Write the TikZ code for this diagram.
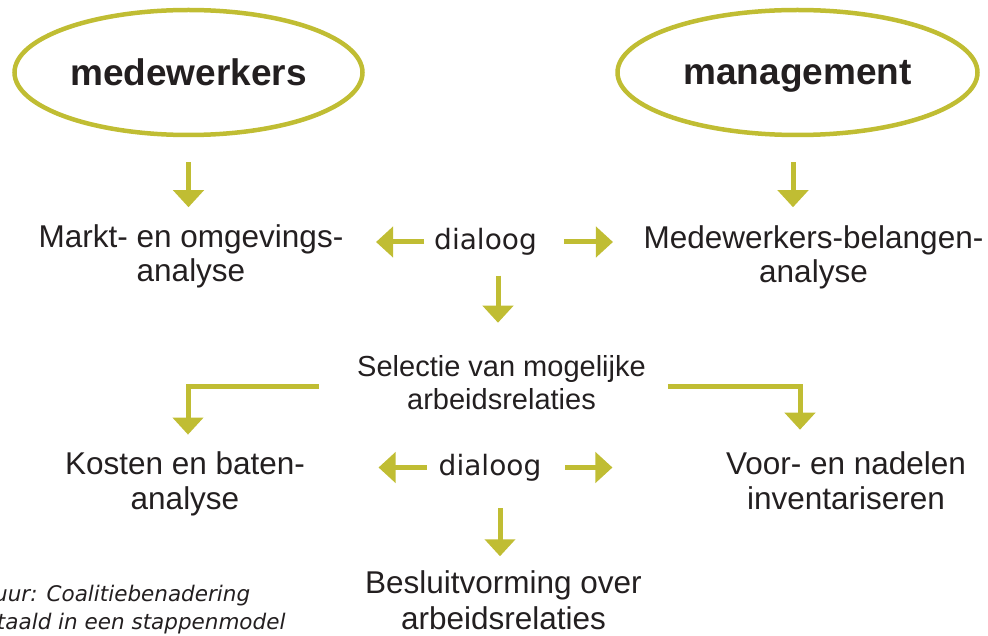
\documentclass[tikz,border=0pt]{standalone}
\usepackage{fontspec}
\setmainfont{Liberation Sans}
\newfontfamily\dialfont{DejaVu Sans}
\usepackage{tikz}
\usetikzlibrary{arrows.meta,shapes.geometric}

\definecolor{olijf}{RGB}{192,189,51}
\definecolor{tekst}{RGB}{35,31,32}

\tikzset{
  pijl/.style={draw=olijf, line width=5pt, -{Triangle[width=30pt,length=17pt]}},
  partij/.style={ellipse, draw=olijf, line width=4.5pt, inner sep=0pt, text depth=0pt,
    text=tekst, font=\fontsize{37}{40}\selectfont\bfseries},
  stap/.style={align=center, inner sep=0pt, text=tekst,
    font=\fontsize{31.5}{34.5}\selectfont},
  dialoog/.style={inner sep=0pt, text=tekst, font=\dialfont\fontsize{28}{30}\selectfont}
}

\begin{document}
\begin{tikzpicture}[x=1pt,y=-1pt]
    \useasboundingbox (0,0) rectangle (988,636);
    \clip (0,0) rectangle (988,636);
    \node[partij, minimum width=348pt, minimum height=125pt] (med) at (188.5,72.5) {medewerkers};
    \node[partij, minimum width=360pt, minimum height=125pt] (man) at (797.5,72.5) {management};
    \node[stap] (markt) at (191,256.5) {Markt- en omgevings-\\analyse};
    \node[dialoog] (dial1) at (485.5,242) {dialoog};
    \node[stap] (belang) at (813.5,257.5) {Medewerkers-belangen-\\analyse};
    \node[stap, font=\fontsize{29}{33}\selectfont] (sel) at (501.5,382.5) {Selectie van mogelijke\\arbeidsrelaties};
    \node[stap, font=\fontsize{31.5}{35}\selectfont] (kos) at (185,484) {Kosten en baten-\\analyse};
    \node[dialoog] (dial2) at (490,467.5) {dialoog};
    \node[stap, font=\fontsize{31.5}{35}\selectfont] (voor) at (846,481) {Voor- en nadelen\\inventariseren};
    \node[stap, font=\fontsize{31.5}{36}\selectfont] (bes) at (503.5,600) {Besluitvorming over\\arbeidsrelaties};
    \node[anchor=north west, align=left, inner sep=0pt, text=tekst,
      font=\dialfont\itshape\fontsize{21.5}{28}\selectfont] (bron) at (-38,584.5)
      {Figuur: Coalitiebenadering\\vertaald in een stappenmodel};
    % pijlen naar beneden
    \draw[pijl] ([yshift=-25pt]med.south) -- ([yshift=-70pt]med.south);
    \draw[pijl] ([xshift=-4.5pt,yshift=-25pt]man.south) -- ([xshift=-4.5pt,yshift=-70pt]man.south);
    \draw[pijl] ([xshift=12.5pt,yshift=-20pt]dial1.south) -- ([xshift=12.5pt,yshift=-67pt]dial1.south);
    \draw[pijl] ([xshift=10pt,yshift=-27pt]dial2.south) -- ([xshift=10pt,yshift=-75pt]dial2.south);
    % dialoog
    \draw[pijl] ([xshift=-10pt]dial1.west) -- ([xshift=-58pt]dial1.west);
    \draw[pijl] ([xshift=27pt]dial1.east) -- ([xshift=76pt]dial1.east);
    \draw[pijl] ([xshift=-12pt]dial2.west) -- ([xshift=-60pt]dial2.west);
    \draw[pijl] ([xshift=24pt]dial2.east) -- ([xshift=71pt]dial2.east);
    % selectie
    \draw[pijl] ([xshift=-38pt,yshift=-3.5pt]sel.west) -| ([xshift=3pt,yshift=17pt]kos.north);
    \draw[pijl] ([xshift=22pt,yshift=-3.5pt]sel.east) -| ([xshift=-46pt,yshift=22pt]voor.north);
\end{tikzpicture}
\end{document}
